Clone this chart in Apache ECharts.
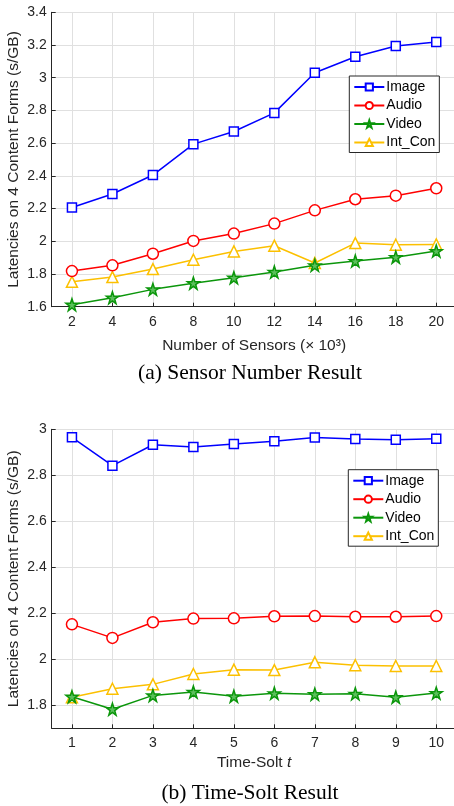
<!DOCTYPE html>
<html>
<head>
<meta charset="utf-8">
<script src="https://cdn.jsdelivr.net/npm/echarts@6/dist/echarts.min.js"></script>
<style>
  html, body { margin: 0; padding: 0; background: #fff; }
  #main { width: 454px; height: 806px; }
</style>
</head>
<body>
<div id="main"></div>
<script>
// (a) sensor number result, x in thousands of sensors
const sensorX = [2, 4, 6, 8, 10, 12, 14, 16, 18, 20];
const sensorImage = [2.206, 2.289, 2.405, 2.594, 2.671, 2.785, 3.030, 3.128, 3.194, 3.218];
const sensorAudio = [1.818, 1.853, 1.924, 2.002, 2.047, 2.108, 2.189, 2.257, 2.279, 2.324];
const sensorVideo = [1.612, 1.655, 1.706, 1.744, 1.777, 1.812, 1.853, 1.879, 1.903, 1.940];
const sensorIntCon = [1.752, 1.781, 1.830, 1.887, 1.938, 1.973, 1.867, 1.989, 1.979, 1.981];
const sensorYTicks = [1.6, 1.8, 2, 2.2, 2.4, 2.6, 2.8, 3, 3.2, 3.4];

// (b) time-slot result
const slotX = [1, 2, 3, 4, 5, 6, 7, 8, 9, 10];
const slotImage = [2.965, 2.842, 2.933, 2.923, 2.936, 2.948, 2.964, 2.958, 2.955, 2.959];
const slotAudio = [2.152, 2.093, 2.161, 2.177, 2.178, 2.187, 2.188, 2.185, 2.185, 2.188];
const slotVideo = [1.837, 1.783, 1.843, 1.858, 1.839, 1.852, 1.848, 1.850, 1.835, 1.853];
const slotIntCon = [1.835, 1.872, 1.891, 1.936, 1.955, 1.953, 1.987, 1.974, 1.971, 1.971];
const slotYTicks = [1.8, 2, 2.2, 2.4, 2.6, 2.8, 3];

const names = ['Image', 'Audio', 'Video', 'Int_Con'];

const AXIS = '#262626';
const GRIDC = '#e0e0e0';
const SANS = '"Liberation Sans", Arial, sans-serif';
const SERIF = '"Liberation Serif", "Times New Roman", serif';
const STAR = 'path://M50,0 L61.8,35.1 L98.5,35.1 L68.8,56.8 L79.4,91.9 L50,70.2 L20.6,91.9 L31.2,56.8 L1.5,35.1 L38.2,35.1 Z';

const styles = [
  { color: '#0000ff', fill: '#ffffff', symbol: 'rect', size: 9 },
  { color: '#ff0000', fill: '#ffffff', symbol: 'circle', size: 11 },
  { color: '#0b960b', fill: '#5cc05c', symbol: STAR, size: 12 },
  { color: '#fcc000', fill: '#ffffff', symbol: 'triangle', size: 11 }
];

function pairs(xs, ys) {
  return xs.map((x, i) => [x, ys[i]]);
}

function makeSeries(idx, xs, lists) {
  return lists.map((ys, k) => ({
    name: names[k],
    type: 'line',
    xAxisIndex: idx,
    yAxisIndex: idx,
    data: pairs(xs, ys),
    symbol: styles[k].symbol,
    symbolSize: styles[k].size,
    lineStyle: { color: styles[k].color, width: 1.5 },
    itemStyle: { color: styles[k].fill, borderColor: styles[k].color, borderWidth: 1.5 },
    animation: false,
    z: 10 - k
  }));
}

function xAxis(idx, min, max, ticks, name, gap) {
  return {
    type: 'value', gridIndex: idx, min: min, max: max,
    name: name, nameLocation: 'middle', nameGap: gap, nameMoveOverlap: false,
    nameTextStyle: { color: AXIS, fontSize: 15.5, fontFamily: SANS,
      rich: { it: { fontStyle: 'italic', fontSize: 15.5, color: AXIS, fontFamily: SANS } } },
    axisLine: { show: true, onZero: false, lineStyle: { color: AXIS, width: 1 } },
    axisTick: { show: true, inside: true, length: 4, customValues: ticks, lineStyle: { color: AXIS } },
    axisLabel: { customValues: ticks, color: AXIS, fontSize: 14, fontFamily: SANS, margin: 8 },
    splitLine: { show: true, lineStyle: { color: GRIDC, width: 1 } }
  };
}

function yAxis(idx, min, max, ticks) {
  return {
    type: 'value', gridIndex: idx, min: min, max: max,
    name: 'Latencies on 4 Content Forms (s/GB)', nameLocation: 'middle', nameGap: 30,
    nameMoveOverlap: false,
    nameTextStyle: { color: AXIS, fontSize: 15.5, fontFamily: SANS },
    axisLine: { show: true, onZero: false, lineStyle: { color: AXIS, width: 1 } },
    axisTick: { show: true, inside: true, length: 4, customValues: ticks, lineStyle: { color: AXIS } },
    axisLabel: { customValues: ticks, color: AXIS, fontSize: 14, fontFamily: SANS, margin: 5 },
    splitLine: { show: true, lineStyle: { color: GRIDC, width: 1 } }
  };
}

function legend(left, top) {
  return {
    orient: 'vertical', left: left, top: top,
    data: names,
    itemWidth: 30, itemHeight: 9, itemGap: 4.5,
    padding: [4, 4, 3, 4],
    backgroundColor: '#fff',
    borderColor: AXIS, borderWidth: 1,
    textStyle: { color: '#000', fontSize: 14, fontFamily: SANS, padding: [0, 0, 0, -3] },
    selectedMode: false
  };
}

const chart = echarts.init(document.getElementById('main'));
chart.setOption({
  animation: false,
  grid: [
    { left: 51.7, top: 12.3, width: 404.8, height: 294.4, outerBoundsMode: 'none', containLabel: false },
    { left: 51.7, top: 429.3, width: 404.8, height: 299, outerBoundsMode: 'none', containLabel: false }
  ],
  xAxis: [
    xAxis(0, 1, 21, sensorX, 'Number of Sensors (\u00d7 10\u00b3)', 31),
    xAxis(1, 0.5, 10.5, slotX, 'Time-Solt {it|t}', 26)
  ],
  yAxis: [
    yAxis(0, 1.6, 3.4, sensorYTicks),
    yAxis(1, 1.7, 3.0, slotYTicks)
  ],
  legend: [legend(349.3, 76), legend(348.3, 469.7)],
  title: [
    { text: '(a) Sensor Number Result', left: 250, textAlign: 'center', top: 362, padding: 0,
      textStyle: { fontFamily: SERIF, fontSize: 21.5, fontWeight: 'normal', color: '#000' } },
    { text: '(b) Time-Solt Result', left: 250, textAlign: 'center', top: 782, padding: 0,
      textStyle: { fontFamily: SERIF, fontSize: 21.5, fontWeight: 'normal', color: '#000' } }
  ],
  series: makeSeries(0, sensorX, [sensorImage, sensorAudio, sensorVideo, sensorIntCon])
    .concat(makeSeries(1, slotX, [slotImage, slotAudio, slotVideo, slotIntCon]))
});
</script>
</body>
</html>
